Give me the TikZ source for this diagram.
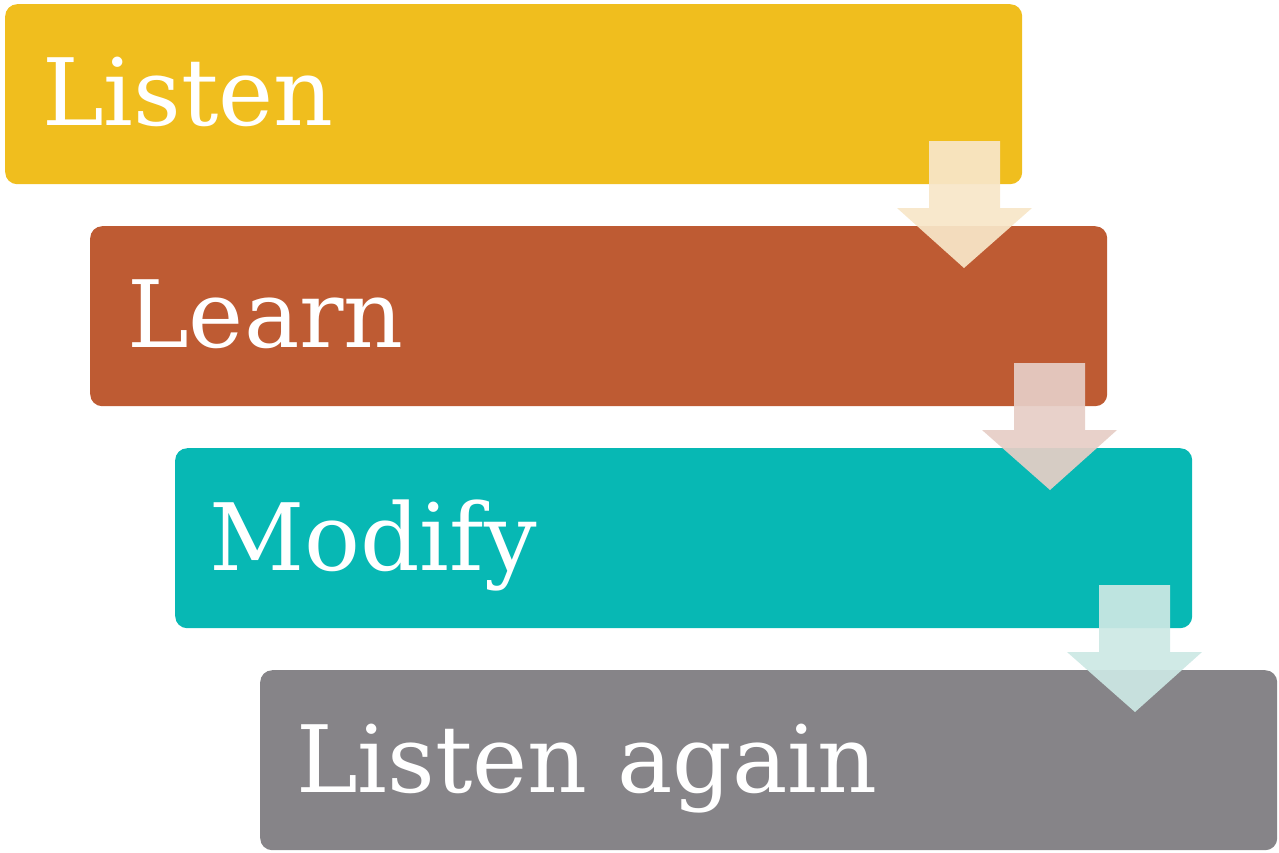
\documentclass[tikz,border=0pt]{standalone}
\usepackage{fontspec}
\setmainfont{DejaVu Serif}
\definecolor{cyel}{HTML}{F0BE1E}
\definecolor{cred}{HTML}{BE5B33}
\definecolor{cteal}{HTML}{07B8B4}
\definecolor{cgray}{HTML}{868488}
\definecolor{ayel}{HTML}{F8E6C8}
\definecolor{ared}{HTML}{E6CEC6}
\definecolor{ateal}{HTML}{CCE8E4}
\begin{document}
\begin{tikzpicture}[x=1pt,y=-1pt,
  stepbox/.style={rectangle,rounded corners=12pt,minimum width=1017pt,minimum height=180pt,anchor=north west,inner sep=0pt,draw=none},
  steplabel/.style={text=white,font=\fontsize{93}{95}\selectfont,anchor=base west,inner sep=0pt},
  arrowfill/.style={opacity=0.93}]
\useasboundingbox (0,0) rectangle (1279,852);
\node[stepbox,fill=cyel] (b1) at (5,4) {};
\node[stepbox,fill=cred] (b2) at (90,226) {};
\node[stepbox,fill=cteal] (b3) at (175,448) {};
\node[stepbox,fill=cgray] (b4) at (260,670) {};
\node[steplabel] (t1) at (42,125) {Listen};
\node[steplabel] (t2) at (127,347) {Learn};
\node[steplabel] (t3) at (209,570) {Modify};
\node[steplabel] (t4) at (296,792) {Listen again};
\fill[ayel,arrowfill] (929,141) -- (1000,141) -- (1000,208) -- (1032,208) -- (964,268) -- (897,208) -- (929,208) -- cycle;
\fill[ared,arrowfill] (1014,363) -- (1085,363) -- (1085,430) -- (1117,430) -- (1050,490) -- (982,430) -- (1014,430) -- cycle;
\fill[ateal,arrowfill] (1099,585) -- (1170,585) -- (1170,652) -- (1202,652) -- (1135,712) -- (1067,652) -- (1099,652) -- cycle;
\end{tikzpicture}
\end{document}
